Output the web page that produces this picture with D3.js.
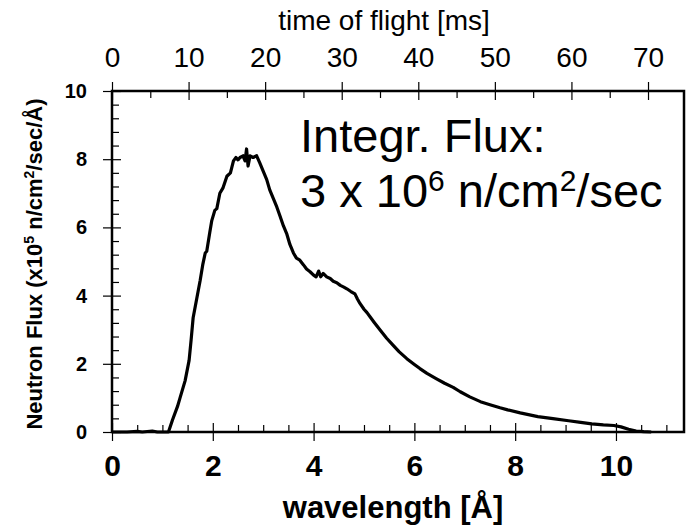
<!DOCTYPE html>
<html>
<head>
<meta charset="utf-8">
<script src="https://cdn.jsdelivr.net/npm/d3@7"></script>
<style>
  body { margin: 0; background: #fff; }
  svg text { font-family: "Liberation Sans", Arial, sans-serif; fill: #000; }
</style>
</head>
<body>
<svg id="chart" width="688" height="528"></svg>
<script>
// wavelength [Å] and neutron flux (x10^5 n/cm2/sec/Å)
const wavelength = [0, 0.3, 0.5, 0.6, 0.8, 0.9, 1.12, 1.2, 1.3, 1.35, 1.45, 1.53, 1.57, 1.61, 1.68,
  1.75, 1.8, 1.85, 1.88, 1.94, 1.98, 2.04, 2.08, 2.14, 2.2, 2.28, 2.35, 2.41, 2.46, 2.5, 2.54,
  2.6, 2.64, 2.67, 2.7, 2.74, 2.8, 2.87, 2.93, 3.0, 3.07, 3.13, 3.2, 3.27, 3.33, 3.4, 3.47,
  3.53, 3.6, 3.66, 3.72, 3.8, 3.86, 3.93, 4.0, 4.05, 4.1, 4.14, 4.19, 4.26, 4.33, 4.39, 4.46,
  4.53, 4.6, 4.66, 4.74, 4.82, 4.87, 4.92, 5.0, 5.06, 5.12, 5.2, 5.32, 5.45, 5.58, 5.7, 5.85,
  6.0, 6.11, 6.25, 6.44, 6.6, 6.77, 6.91, 7.1, 7.31, 7.5, 7.7, 7.85, 8.1, 8.45, 8.75, 9.06,
  9.3, 9.52, 9.75, 9.96, 10.1, 10.25, 10.4, 10.55, 10.7];
const flux = [0, 0, 0.02, 0, 0.03, 0, 0, 0.35, 0.75, 1.0, 1.5, 2.1, 2.7, 3.35, 3.9,
  4.45, 4.9, 5.25, 5.3, 5.85, 6.2, 6.5, 6.55, 7.0, 7.15, 7.5, 7.6, 7.95, 8.05, 7.98, 8.05,
  8.1, 7.95, 8.3, 7.8, 8.1, 8.05, 8.1, 7.9, 7.65, 7.4, 7.1, 6.85, 6.6, 6.35, 6.05, 5.8,
  5.5, 5.25, 5.1, 5.05, 4.9, 4.78, 4.7, 4.6, 4.55, 4.72, 4.55, 4.65, 4.55, 4.5, 4.42, 4.38,
  4.3, 4.25, 4.2, 4.12, 4.05, 3.9, 3.77, 3.6, 3.5, 3.38, 3.22, 2.99, 2.75, 2.54, 2.35, 2.15,
  1.98, 1.86, 1.72, 1.56, 1.43, 1.31, 1.18, 1.03, 0.89, 0.8, 0.71, 0.65, 0.56, 0.45, 0.39, 0.33,
  0.28, 0.24, 0.21, 0.19, 0.15, 0.08, 0.03, 0.01, 0];

const xTicks = [0, 2, 4, 6, 8, 10];
const yTicks = [0, 2, 4, 6, 8, 10];
const tofTicks = [0, 10, 20, 30, 40, 50, 60, 70];

const svg = d3.select('#chart');
const plotL = 112, plotR = 684, plotT = 91, plotB = 432;

const x = d3.scaleLinear().domain([0, 11.35]).range([plotL, plotR]);
const tof = d3.scaleLinear().domain([0, 74.7]).range([plotL, plotR]);
const y = d3.scaleLinear().domain([0, 10]).range([plotB, plotT]);

const notMajor = (step) => (v) => Math.abs(v / step - Math.round(v / step)) > 1e-6;

// minor ticks, pointing into the plot
svg.append('g').attr('transform', 'translate(0,' + plotB + ')')
  .call(d3.axisBottom(x).tickValues(d3.range(0.5, 11.3, 0.5).filter(notMajor(2))).tickSize(-7).tickFormat(''))
  .call(g => g.select('.domain').remove());
svg.append('g').attr('transform', 'translate(' + plotL + ',0)')
  .call(d3.axisLeft(y).tickValues(d3.range(0.4, 10, 0.4).filter(notMajor(2))).tickSize(-7).tickFormat(''))
  .call(g => g.select('.domain').remove());
svg.append('g').attr('transform', 'translate(0,' + plotT + ')')
  .call(d3.axisTop(tof).tickValues(d3.range(5, 75, 10)).tickSize(-7).tickFormat(''))
  .call(g => g.select('.domain').remove());

// major ticks, crossing the frame
const xAxis = svg.append('g').attr('transform', 'translate(0,' + plotB + ')')
  .call(d3.axisBottom(x).tickValues(xTicks).tickSize(9).tickPadding(14).tickFormat(d3.format('d')));
xAxis.select('.domain').remove();
xAxis.selectAll('.tick line').attr('y1', -9);
xAxis.selectAll('text').attr('font-size', 30).attr('font-weight', 'bold')
  .attr('font-family', '"Liberation Sans", Arial, sans-serif');

const yAxis = svg.append('g').attr('transform', 'translate(' + plotL + ',0)')
  .call(d3.axisLeft(y).tickValues(yTicks).tickSize(9).tickPadding(16).tickFormat(d3.format('d')));
yAxis.select('.domain').remove();
yAxis.selectAll('.tick line').attr('x1', 9);
yAxis.selectAll('text').attr('font-size', 20).attr('font-weight', 'bold')
  .attr('font-family', '"Liberation Sans", Arial, sans-serif');

const tAxis = svg.append('g').attr('transform', 'translate(0,' + plotT + ')')
  .call(d3.axisTop(tof).tickValues(tofTicks).tickSize(9).tickPadding(15).tickFormat(d3.format('d')));
tAxis.select('.domain').remove();
tAxis.selectAll('.tick line').attr('y1', 9);
tAxis.selectAll('text').attr('font-size', 28)
  .attr('font-family', '"Liberation Sans", Arial, sans-serif');

svg.selectAll('.tick line').attr('stroke', '#000').attr('stroke-width', 1.2);

// frame
svg.append('rect')
  .attr('x', plotL).attr('y', plotT)
  .attr('width', plotR - plotL).attr('height', plotB - plotT)
  .attr('fill', 'none').attr('stroke', '#000').attr('stroke-width', 2.5);

// spectrum
const pts = wavelength.map((w, i) => [w, flux[i]]);
svg.append('path')
  .datum(pts)
  .attr('fill', 'none')
  .attr('stroke', '#000')
  .attr('stroke-width', 3.2)
  .attr('stroke-linejoin', 'round')
  .attr('d', d3.line().x(d => x(d[0])).y(d => y(d[1])));

// axis titles
svg.append('text')
  .attr('x', 384).attr('y', 30)
  .attr('text-anchor', 'middle')
  .attr('font-size', 28)
  .text('time of flight [ms]');

svg.append('text')
  .attr('x', 393).attr('y', 518)
  .attr('text-anchor', 'middle')
  .attr('font-size', 31).attr('font-weight', 'bold')
  .text('wavelength [Å]');

const yt = svg.append('text')
  .attr('transform', 'translate(42,264) rotate(-90)')
  .attr('text-anchor', 'middle')
  .attr('font-size', 22).attr('font-weight', 'bold');
yt.append('tspan').text('Neutron Flux (x10');
yt.append('tspan').attr('baseline-shift', 'super').attr('font-size', 14).text('5');
yt.append('tspan').text(' n/cm');
yt.append('tspan').attr('baseline-shift', 'super').attr('font-size', 14).text('2');
yt.append('tspan').text('/sec/Å)');

// annotation
svg.append('text')
  .attr('x', 300).attr('y', 152)
  .attr('font-size', 47)
  .text('Integr. Flux:');
const ann = svg.append('text')
  .attr('x', 300).attr('y', 207)
  .attr('font-size', 47);
ann.append('tspan').text('3 x 10');
ann.append('tspan').attr('baseline-shift', 'super').attr('font-size', 30).text('6');
ann.append('tspan').text(' n/cm');
ann.append('tspan').attr('baseline-shift', 'super').attr('font-size', 30).text('2');
ann.append('tspan').text('/sec');
</script>
</body>
</html>
